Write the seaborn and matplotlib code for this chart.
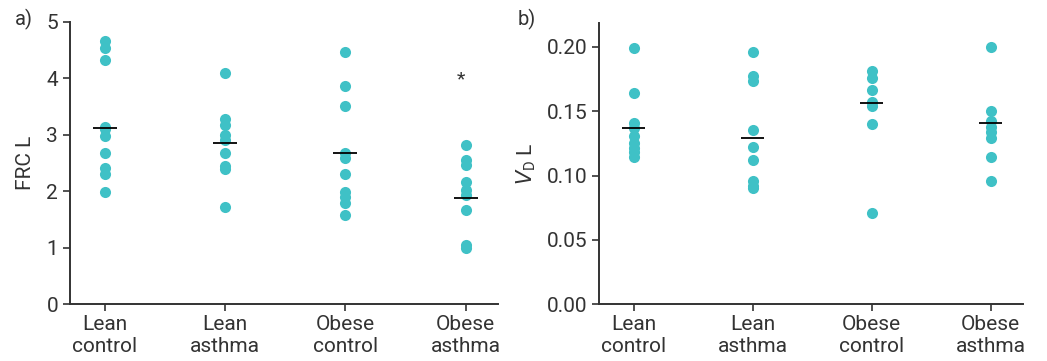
import numpy as np
import pandas as pd
import seaborn as sns
import matplotlib.pyplot as plt

sns.set_style("ticks")
plt.rcParams['font.family'] = ['Roboto', 'DejaVu Sans']

groups = ['Lean\ncontrol', 'Lean\nasthma', 'Obese\ncontrol', 'Obese\nasthma']

# FRC, L
frc = {
    'Lean\ncontrol': [4.65, 4.54, 4.32, 3.14, 3.10, 2.97, 2.68, 2.42, 2.31, 1.98],
    'Lean\nasthma': [4.10, 3.27, 3.17, 2.99, 2.91, 2.68, 2.45, 2.39, 1.73],
    'Obese\ncontrol': [4.47, 3.87, 3.51, 2.67, 2.58, 2.30, 1.99, 1.90, 1.80, 1.58],
    'Obese\nasthma': [2.81, 2.55, 2.46, 2.17, 2.02, 1.93, 1.67, 1.05, 1.00],
}
frc_median = [3.12, 2.86, 2.67, 1.88]

# VD, L
vd = {
    'Lean\ncontrol': [0.199, 0.164, 0.141, 0.137, 0.131, 0.125, 0.121, 0.118, 0.114],
    'Lean\nasthma': [0.196, 0.177, 0.173, 0.135, 0.122, 0.112, 0.096, 0.092, 0.090],
    'Obese\ncontrol': [0.181, 0.176, 0.166, 0.157, 0.154, 0.140, 0.071],
    'Obese\nasthma': [0.200, 0.150, 0.142, 0.138, 0.134, 0.129, 0.114, 0.096],
}
vd_median = [0.137, 0.129, 0.156, 0.141]

def long_form(d):
    rows = [(g, v) for g in groups for v in d[g]]
    return pd.DataFrame(rows, columns=['group', 'value'])

df_frc = long_form(frc)
df_vd = long_form(vd)

teal = '#3fc1c6'
dark = '#333333'

fig = plt.figure(figsize=(10.47, 3.61), dpi=100)
ax1 = fig.add_axes([0.0669, 0.157, 0.4088, 0.783])
ax2 = fig.add_axes([0.5721, 0.157, 0.4047, 0.780])

for ax, df, med in [(ax1, df_frc, frc_median), (ax2, df_vd, vd_median)]:
    sns.stripplot(ax=ax, data=df, x='group', y='value', order=groups,
                  jitter=False, color=teal, size=8, linewidth=0, zorder=2)
    pos = np.arange(len(groups))
    ax.hlines(med, pos - 0.1, pos + 0.1, color='black', lw=1.3, zorder=3)
    ax.set_xlim(-0.29, 3.27)
    ax.set_xlabel('')
    sns.despine(ax=ax)
    for s in ['left', 'bottom']:
        ax.spines[s].set_linewidth(1.4)
        ax.spines[s].set_color(dark)
    ax.tick_params(axis='both', colors=dark, labelsize=15, width=1.2, length=5)
    ax.tick_params(axis='x', pad=3)

ax1.set_ylim(0, 5)
ax1.set_yticks(range(0, 6))
ax1.set_ylabel('FRC L', fontsize=15, color=dark, labelpad=8)
ax1.text(3 - 0.04, 3.98, '*', ha='center', va='center', fontsize=14, color=dark)

ax2.set_ylim(0, 0.2186)
ax2.set_yticks([0.0, 0.05, 0.10, 0.15, 0.20])
ax2.set_yticklabels(['0.00', '0.05', '0.10', '0.15', '0.20'])
ax2.set_ylabel(r'$V_\mathregular{D}$ L', fontsize=15, color=dark, labelpad=6)

fig.text(0.014, 0.945, 'a)', fontsize=14.5, color=dark, va='center')
fig.text(0.494, 0.945, 'b)', fontsize=14.5, color=dark, va='center')

fig.savefig('out.png', dpi=100)
